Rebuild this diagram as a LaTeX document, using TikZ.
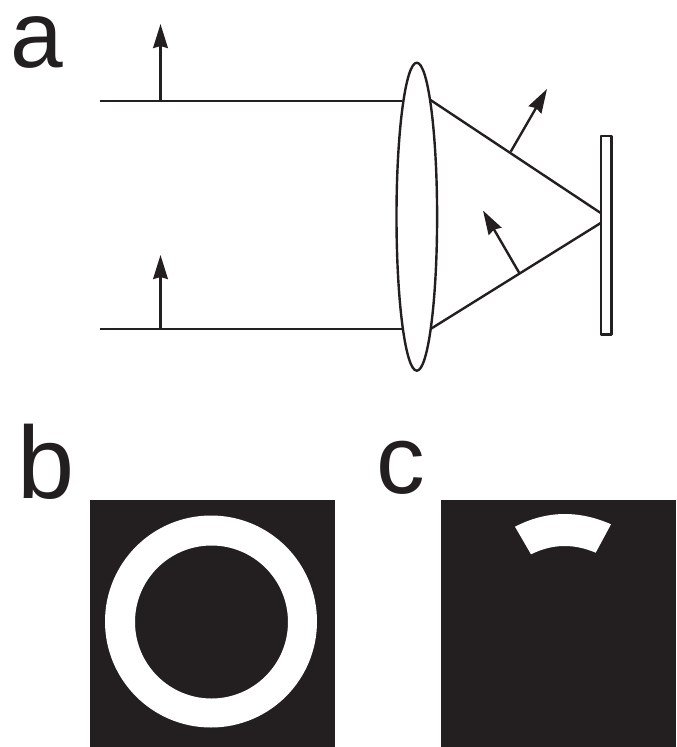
\documentclass[tikz,border=0pt]{standalone}
\usepackage{fontspec}
\setmainfont{Liberation Sans}
\usepackage{xcolor}
\usetikzlibrary{arrows.meta}
\definecolor{inkdark}{HTML}{231F20}

\begin{document}
\begin{tikzpicture}[x=0.75pt, y=-0.75pt, line join=round,
    optic/.style={draw=inkdark, line width=1.8pt},
    polar/.style={draw=inkdark, line width=1.8pt, -{Stealth[length=18pt, width=11pt, inset=1.5pt]}},
    panellabel/.style={text=inkdark, font=\fontsize{#1}{#1}\selectfont, inner sep=0pt, anchor=base west}]
    \useasboundingbox (0, 0) rectangle (676, 747);

    \coordinate (LensC) at (416.8, 216.7);
    \coordinate (TopIn) at (100, 101);      % incoming beam, upper edge
    \coordinate (TopLens) at (402, 101);
    \coordinate (BotIn) at (100, 329);      % incoming beam, lower edge
    \coordinate (BotLens) at (402, 329);
    \coordinate (TopOut) at (430.5, 100);   % converging cone
    \coordinate (BotOut) at (430.5, 329);
    \coordinate (TopFocus) at (600.7, 213);
    \coordinate (BotFocus) at (600.7, 223);
    \coordinate (TopBase) at (160.5, 101);  % polarization arrows
    \coordinate (TopTip) at (160.5, 24);
    \coordinate (BotBase) at (160.5, 329);
    \coordinate (BotTip) at (160.5, 255);
    \coordinate (UpBase) at (510.7, 151.7);
    \coordinate (UpTip) at (547, 89);
    \coordinate (LoBase) at (519.3, 273);
    \coordinate (LoTip) at (483, 210.5);

    % Incoming beam and cone
    \draw[optic] (TopIn) -- (TopLens);
    \draw[optic] (BotIn) -- (BotLens);
    \draw[optic] (TopOut) -- (TopFocus);
    \draw[optic] (BotOut) -- (BotFocus);

    % Lens and sample plate
    \draw[optic] (LensC) ellipse (20.3 and 154);
    \draw[optic] (600.7, 136) rectangle (611.5, 334.5);

    % Polarization arrows
    \draw[polar] (TopBase) -- (TopTip);
    \draw[polar] (BotBase) -- (BotTip);
    \draw[polar] (UpBase) -- (UpTip);
    \draw[polar] (LoBase) -- (LoTip);

    % Panel b, ring
    \fill[inkdark] (90, 500) rectangle (335, 747);
    \fill[white, even odd rule] (211, 621.5) circle (106) (211.5, 622) circle (76.5);

    % Panel c, arc segment
    \fill[inkdark] (441, 500) rectangle (676, 747);
    \fill[white] (515, 526.7) .. controls (547, 510.2) and (579, 510.2) .. (611, 524.3)
        -- (595.7, 552.7) .. controls (574, 543.5) and (553, 543.5) .. (531, 554.3) -- cycle;

    % Labels
    \node[panellabel=71] (LabelA) at (10, 67) {a};
    \node[panellabel=77] (LabelB) at (17, 498.5) {b};
    \node[panellabel=73] (LabelC) at (376, 493.5) {c};
\end{tikzpicture}
\end{document}
